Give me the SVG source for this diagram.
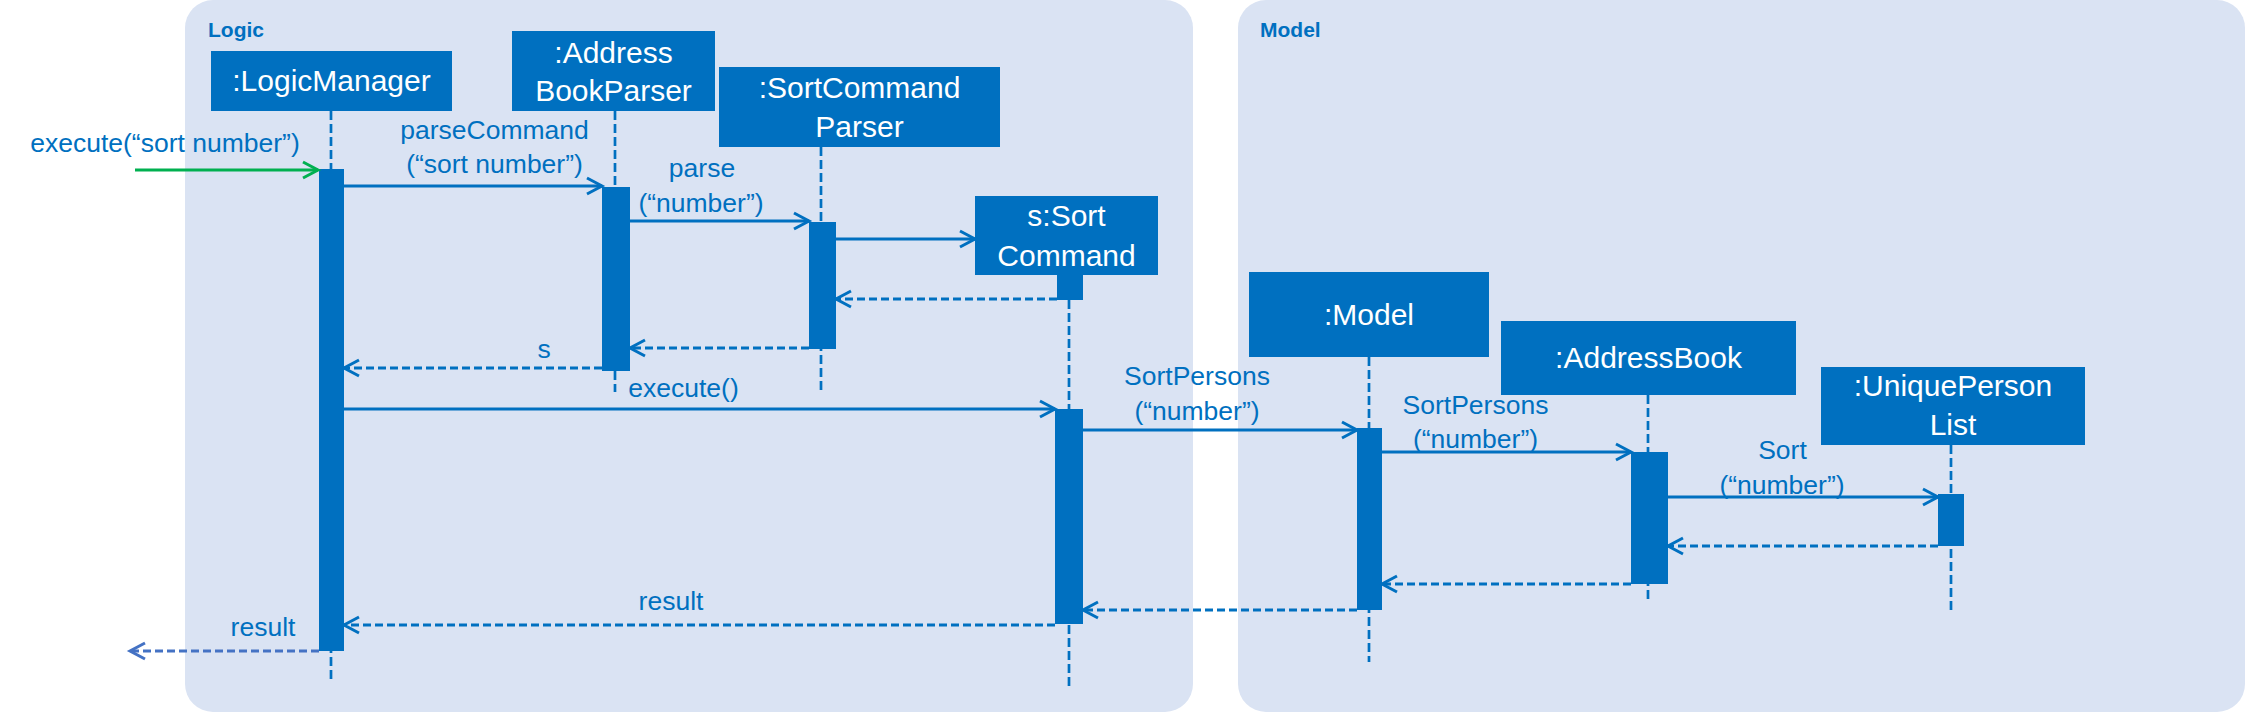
<svg xmlns="http://www.w3.org/2000/svg" width="2246" height="713" viewBox="0 0 2246 713">
<style>
.panel{fill:#DAE3F3}
.ptitle{font-family:'Liberation Sans',Arial,sans-serif;font-weight:bold;font-size:21px;fill:#0070C0}
.box{fill:#0070C0}
.ntext{font-family:'Liberation Sans',Arial,sans-serif;font-size:30px;fill:#FFFFFF;text-anchor:middle}
.life{stroke:#0070C0;stroke-width:2.7;stroke-dasharray:9 4;fill:none}
.bar{fill:#0070C0}
.msg{stroke:#0070C0;stroke-width:3;fill:none;marker-end:url(#arr)}
.ret{stroke-dasharray:8 4}
.lbl{font-family:'Liberation Sans',Arial,sans-serif;font-size:26.5px;fill:#0070C0;text-anchor:middle}
.head{fill:none;stroke-width:3;stroke-linejoin:miter}
</style>
<defs>
<marker id="arr" markerUnits="userSpaceOnUse" viewBox="-20 -12 24 24" markerWidth="24" markerHeight="24" refX="0" refY="0" orient="auto" overflow="visible">
<path class="head" d="M-15,-8 L0,0 L-15,8" stroke="#0070C0"/>
</marker>
<marker id="arrG" markerUnits="userSpaceOnUse" viewBox="-20 -12 24 24" markerWidth="24" markerHeight="24" refX="0" refY="0" orient="auto" overflow="visible">
<path class="head" d="M-15,-8 L0,0 L-15,8" stroke="#00B050"/>
</marker>
<marker id="arrL" markerUnits="userSpaceOnUse" viewBox="-20 -12 24 24" markerWidth="24" markerHeight="24" refX="0" refY="0" orient="auto" overflow="visible">
<path class="head" d="M-15,-8 L0,0 L-15,8" stroke="#4472C4"/>
</marker>
</defs>

<g id="panels">
<rect class="panel" x="185" y="0" width="1008" height="712" rx="28" ry="28"/>
<rect class="panel" x="1238" y="0" width="1007" height="712" rx="28" ry="28"/>
<text class="ptitle" x="208" y="37">Logic</text>
<text class="ptitle" x="1260" y="37">Model</text>
</g>

<g id="logicManager">
<line class="life" x1="331" y1="111" x2="331" y2="682"/>
<rect class="box" x="211" y="51" width="241" height="60"/>
<text class="ntext" x="331.5" y="91">:LogicManager</text>
<rect class="bar" x="319" y="169" width="25" height="482"/>
</g>

<g id="addressBookParser">
<line class="life" x1="615" y1="111" x2="615" y2="392"/>
<rect class="box" x="512" y="31" width="203" height="80"/>
<text class="ntext" x="613.5" y="63">:Address</text>
<text class="ntext" x="613.5" y="101">BookParser</text>
<rect class="bar" x="602" y="187" width="28" height="184"/>
</g>

<g id="sortCommandParser">
<line class="life" x1="821" y1="147" x2="821" y2="390"/>
<rect class="box" x="719" y="67" width="281" height="80"/>
<text class="ntext" x="859.5" y="98">:SortCommand</text>
<text class="ntext" x="859.5" y="137">Parser</text>
<rect class="bar" x="809" y="222" width="27" height="127"/>
</g>

<g id="sortCommand">
<line class="life" x1="1069" y1="300" x2="1069" y2="688"/>
<rect class="box" x="975" y="196" width="183" height="79"/>
<text class="ntext" x="1066.5" y="226">s:Sort</text>
<text class="ntext" x="1066.5" y="266">Command</text>
<rect class="bar" x="1057" y="275" width="26" height="25"/>
<rect class="bar" x="1055" y="409" width="28" height="215"/>
</g>

<g id="model">
<line class="life" x1="1369" y1="357" x2="1369" y2="662"/>
<rect class="box" x="1249" y="272" width="240" height="85"/>
<text class="ntext" x="1369" y="325">:Model</text>
<rect class="bar" x="1357" y="428" width="25" height="182"/>
</g>

<g id="addressBook">
<line class="life" x1="1648" y1="395" x2="1648" y2="602"/>
<rect class="box" x="1501" y="321" width="295" height="74"/>
<text class="ntext" x="1648.5" y="368">:AddressBook</text>
<rect class="bar" x="1631" y="452" width="37" height="132"/>
</g>

<g id="uniquePersonList">
<line class="life" x1="1951" y1="445" x2="1951" y2="613"/>
<rect class="box" x="1821" y="367" width="264" height="78"/>
<text class="ntext" x="1953" y="396">:UniquePerson</text>
<text class="ntext" x="1953" y="435">List</text>
<rect class="bar" x="1938" y="494" width="26" height="52"/>
</g>

<g id="connectors">
<line x1="135" y1="170" x2="318" y2="170" stroke="#00B050" stroke-width="3" marker-end="url(#arrG)"/>
<text class="lbl" x="165" y="152">execute(“sort number”)</text>

<line class="msg" x1="344" y1="186" x2="602" y2="186"/>
<text class="lbl" x="494.5" y="139">parseCommand</text>
<text class="lbl" x="494.5" y="173">(“sort number”)</text>

<line class="msg" x1="630" y1="221" x2="809" y2="221"/>
<text class="lbl" x="702" y="177">parse</text>
<text class="lbl" x="701" y="212">(“number”)</text>

<line class="msg" x1="836" y1="239" x2="975" y2="239"/>

<line class="msg ret" x1="1057" y1="299" x2="836" y2="299"/>
<line class="msg ret" x1="809" y1="348" x2="630" y2="348"/>

<line class="msg ret" x1="602" y1="368" x2="344" y2="368"/>
<text class="lbl" x="544" y="358">s</text>

<line class="msg" x1="344" y1="409" x2="1055" y2="409"/>
<text class="lbl" x="683.5" y="397">execute()</text>

<line class="msg" x1="1083" y1="430" x2="1357" y2="430"/>
<text class="lbl" x="1197" y="385">SortPersons</text>
<text class="lbl" x="1197" y="420">(“number”)</text>

<line class="msg" x1="1382" y1="452" x2="1631" y2="452"/>
<text class="lbl" x="1475.5" y="414">SortPersons</text>
<text class="lbl" x="1475.5" y="448">(“number”)</text>

<line class="msg" x1="1668" y1="497" x2="1938" y2="497"/>
<text class="lbl" x="1782.5" y="459">Sort</text>
<text class="lbl" x="1782" y="494">(“number”)</text>

<line class="msg ret" x1="1938" y1="546" x2="1668" y2="546"/>
<line class="msg ret" x1="1631" y1="584" x2="1382" y2="584"/>
<line class="msg ret" x1="1357" y1="610" x2="1083" y2="610"/>

<line class="msg ret" x1="1055" y1="625" x2="344" y2="625"/>
<text class="lbl" x="671" y="610">result</text>

<line x1="319" y1="651" x2="130" y2="651" stroke="#4472C4" stroke-width="3" stroke-dasharray="8 4" marker-end="url(#arrL)"/>
<text class="lbl" x="263" y="636">result</text>
</g>
</svg>
